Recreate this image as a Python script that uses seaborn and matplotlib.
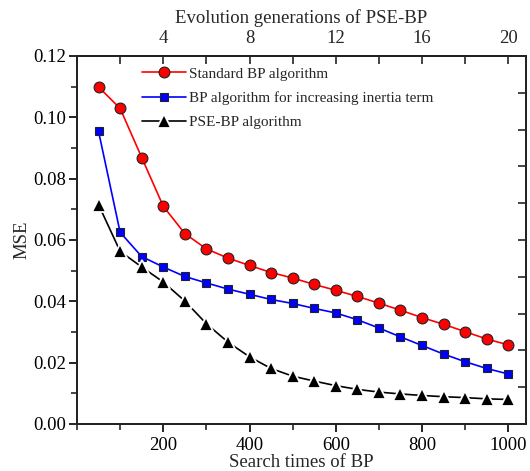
import matplotlib
matplotlib.use("Agg")
import matplotlib.pyplot as plt
import seaborn as sns
import numpy as np
import pandas as pd
from matplotlib.ticker import MultipleLocator, FormatStrFormatter, NullFormatter

search_times = [50, 100, 150, 200, 250, 300, 350, 400, 450, 500,
                550, 600, 650, 700, 750, 800, 850, 900, 950, 1000]
standard_bp = [0.1099, 0.1029, 0.0869, 0.0710, 0.0621, 0.0571, 0.0541, 0.0517, 0.0494, 0.0476,
               0.0455, 0.0436, 0.0416, 0.0394, 0.0371, 0.0347, 0.0325, 0.0301, 0.0277, 0.0258]
inertia_bp = [0.0954, 0.0625, 0.0546, 0.0512, 0.0481, 0.0460, 0.0440, 0.0423, 0.0406, 0.0393,
              0.0377, 0.0362, 0.0340, 0.0313, 0.0284, 0.0256, 0.0228, 0.0203, 0.0181, 0.0163]
pse_bp = [0.0715, 0.0563, 0.0512, 0.0463, 0.0401, 0.0327, 0.0267, 0.0219, 0.0181, 0.0156,
          0.0140, 0.0125, 0.0113, 0.0104, 0.0098, 0.0093, 0.0089, 0.0086, 0.0082, 0.0080]
series_labels = ["Standard BP algorithm",
                 "BP algorithm for increasing inertia term",
                 "PSE-BP algorithm"]

sns.set_theme(style="ticks")
plt.rcParams['font.family'] = ['Liberation Serif', 'DejaVu Serif']
plt.rcParams['mathtext.fontset'] = 'stix'

fig = plt.figure(figsize=(5.30, 4.71), dpi=100)
ax = fig.add_axes([77/530, 1-424/471, (526-77)/530, (424-56)/471])

sns.lineplot(x=search_times, y=standard_bp, ax=ax, color='red', marker='o',
             markersize=7.8, markeredgecolor='#222222', markeredgewidth=0.8,
             linewidth=1.2, label=series_labels[0])
sns.lineplot(x=search_times, y=inertia_bp, ax=ax, color='blue', marker='s',
             markersize=6, markeredgecolor='#222222', markeredgewidth=0.8,
             linewidth=1.2, label=series_labels[1])
sns.lineplot(x=search_times, y=pse_bp, ax=ax, color='black', marker='^',
             markersize=10.5, markeredgecolor='white', markeredgewidth=1.3,
             linewidth=1.2, label=series_labels[2])

ax.set_xlim(0, 1041)
ax.set_ylim(0, 0.12)
ax.xaxis.set_major_locator(MultipleLocator(200))
ax.xaxis.set_minor_locator(MultipleLocator(100))
ax.yaxis.set_major_locator(MultipleLocator(0.02))
ax.yaxis.set_minor_locator(MultipleLocator(0.01))
ax.yaxis.set_major_formatter(FormatStrFormatter('%.2f'))
ax.set_xticks([200, 400, 600, 800, 1000])
ax.tick_params(axis='both', which='major', direction='out', length=6, width=1.2,
               labelsize=13.5, colors='black', pad=2)
ax.tick_params(axis='x', which='major', pad=3.5)
ax.tick_params(axis='both', which='minor', direction='out', length=4, width=1.2)
for s in ax.spines.values():
    s.set_linewidth(1.3)
    s.set_color('black')
    s.set_visible(True)

ax.set_xlabel("Search times of BP", fontsize=13.5, labelpad=0)
ax.set_ylabel("MSE", fontsize=13.5, labelpad=2)

sec = ax.secondary_xaxis('top', functions=(lambda x: x / 50, lambda x: x * 50))
sec.xaxis.set_major_locator(MultipleLocator(4))
sec.xaxis.set_minor_locator(MultipleLocator(2))
sec.set_xticks([4, 8, 12, 16, 20])
sec.tick_params(axis='x', which='major', direction='in', length=6, width=1.2,
                labelsize=13.5, pad=6.5)
sec.tick_params(axis='x', which='minor', direction='in', length=6, width=1.2)
sec.set_xlabel("Evolution generations of PSE-BP", fontsize=13.5, labelpad=5)

rax = ax.twinx()
rax.set_ylim(0, 10)
rax.yaxis.set_major_locator(MultipleLocator(1))
rax.yaxis.set_major_formatter(NullFormatter())
rax.tick_params(axis='y', direction='in', length=6, width=1.2)
rax.grid(False)

leg = ax.legend(loc='upper left', bbox_to_anchor=(0.145, 0.97), frameon=False,
                fontsize=11, handlelength=2.9, handletextpad=0.2,
                labelspacing=0.68, borderpad=0, borderaxespad=0)

fig.savefig("out.png", dpi=100)
